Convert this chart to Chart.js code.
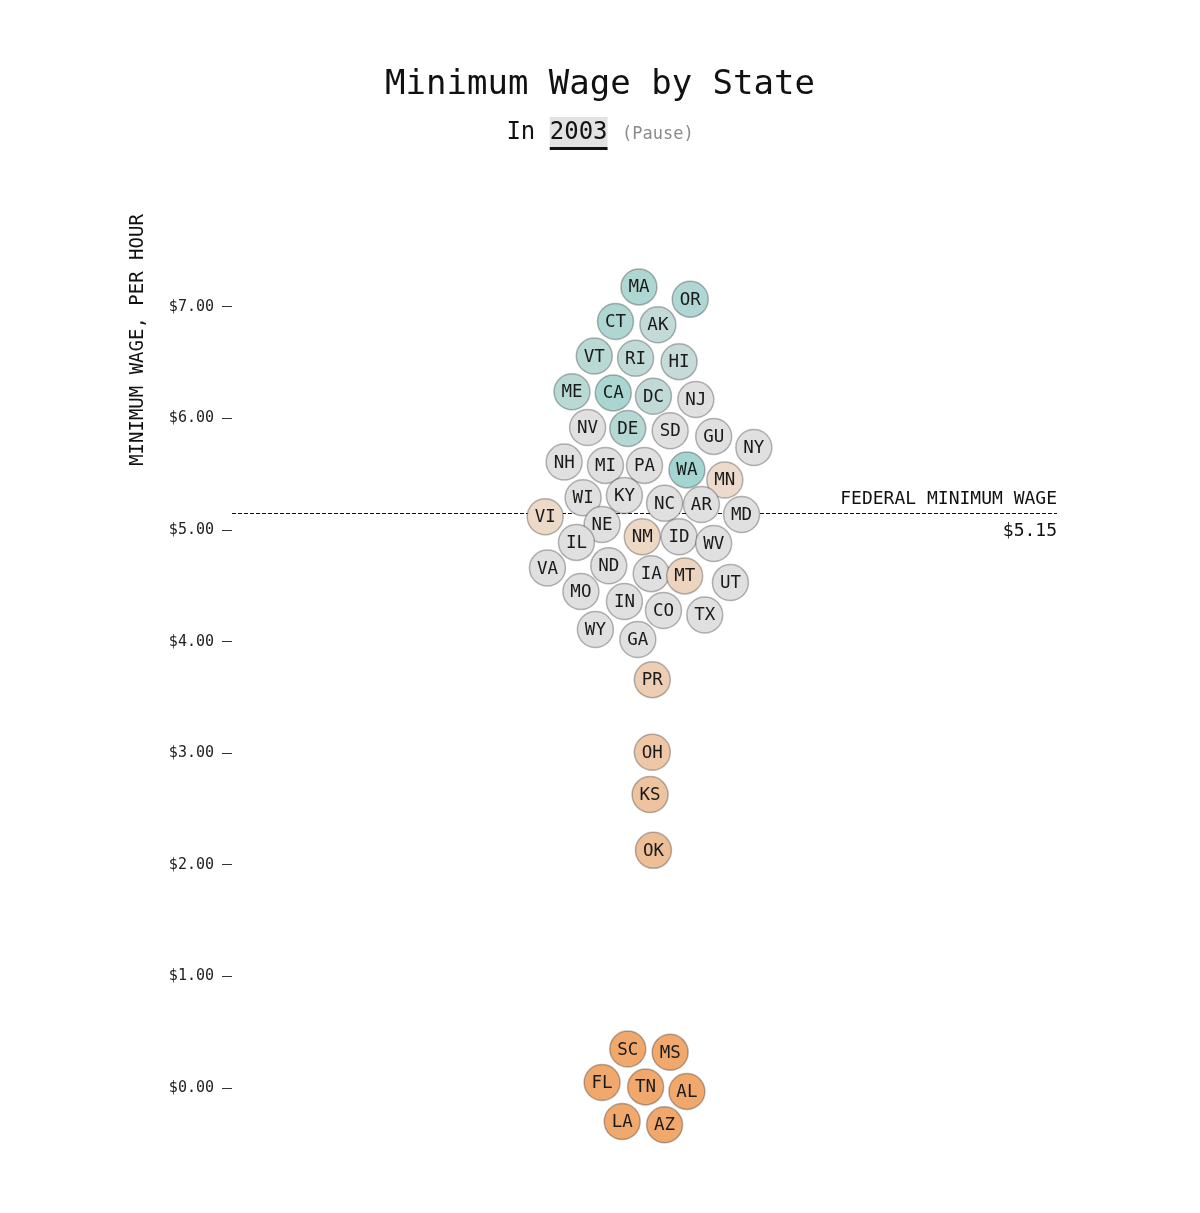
<!DOCTYPE html>
<html>
<head>
<meta charset="utf-8">
<title>Minimum Wage by State</title>
<script src="https://cdn.jsdelivr.net/npm/chart.js@4/dist/chart.umd.min.js"></script>
<style>
  html, body { margin: 0; padding: 0; background: #fff; }
  #wrap { width: 1200px; height: 1213px; }
</style>
</head>
<body>
<div id="wrap"><canvas id="wageChart"></canvas></div>
<script>
// Data
const states = ['MA','OR','CT','AK','VT','RI','HI','ME','CA','DC',
                'NJ','NV','DE','SD','GU','NY','NH','MI','PA','WA',
                'MN','WI','KY','NC','AR','MD','VI','NE','NM','ID',
                'IL','WV','VA','ND','IA','MT','UT','MO','IN','CO',
                'TX','WY','GA','PR','OH','KS','OK','SC','MS','FL',
                'TN','AL','LA','AZ'];

// hourly wage (drives the colour)
const wages = [6.75, 6.70, 6.75, 6.10, 6.40, 6.15, 6.00, 6.40, 6.90, 6.15,
               5.15, 5.15, 6.50, 5.15, 5.15, 5.15, 5.15, 5.15, 5.15, 7.05,
               4.90, 5.15, 5.15, 5.15, 5.15, 5.15, 4.65, 5.15, 4.50, 5.15,
               5.15, 5.15, 5.15, 5.15, 5.15, 4.20, 5.15, 5.15, 5.15, 5.15,
               5.15, 5.15, 5.15, 3.66, 3.00, 2.65, 2.13, 0, 0, 0,
               0, 0, 0, 0];

// swarm layout, in dollars (horizontal offset from centre / vertical position)
const swarmX = [-0.05, 0.41, -0.26, 0.12, -0.45, -0.08, 0.31, -0.65, -0.28, 0.08,
                0.46, -0.51, -0.15, 0.23, 0.62, 0.98, -0.72, -0.35, 0.00, 0.38,
                0.72, -0.55, -0.18, 0.18, 0.51, 0.87, -0.89, -0.38, -0.02, 0.31,
                -0.61, 0.62, -0.87, -0.32, 0.06, 0.36, 0.77, -0.57, -0.18, 0.17,
                0.54, -0.44, -0.06, 0.07, 0.07, 0.05, 0.08, -0.15, 0.23, -0.38,
                0.01, 0.38, -0.20, 0.18];
const swarmY = [7.18, 7.07, 6.87, 6.84, 6.56, 6.54, 6.51, 6.24, 6.23, 6.20,
                6.17, 5.92, 5.91, 5.89, 5.84, 5.74, 5.61, 5.58, 5.58, 5.54,
                5.45, 5.29, 5.31, 5.24, 5.23, 5.14, 5.12, 5.05, 4.94, 4.94,
                4.89, 4.88, 4.66, 4.68, 4.61, 4.59, 4.53, 4.45, 4.36, 4.28,
                4.24, 4.11, 4.02, 3.66, 3.01, 2.63, 2.13, 0.35, 0.32, 0.05,
                0.01, -0.03, -0.30, -0.33];

const wageTicks = [0, 1, 2, 3, 4, 5, 6, 7];
const federalWage = 5.15;
const year = '2003';

const FONT = '"DejaVu Sans Mono", "Liberation Mono", monospace';

function mix(a, b, t) {
    return 'rgb(' + a.map((v, i) => Math.round(v + (b[i] - v) * t)).join(',') + ')';
}

// grey at the federal rate, teal above, peach to orange below
function wageColor(w) {
    if (Math.abs(w - federalWage) < 0.001) return 'rgb(224,224,224)';
    if (w > federalWage) {
        return mix([224, 224, 224], [100, 200, 190], Math.min(1, (w - federalWage) / 4));
    }
    return mix([236, 222, 210], [240, 168, 108], (federalWage - w) / federalWage);
}

const points = states.map((s, i) => ({ x: swarmX[i], y: swarmY[i] }));

const federalLine = {
    id: 'federalLine',
    beforeDatasetsDraw(chart) {
        const { ctx, chartArea } = chart;
        const y = chart.scales.y.getPixelForValue(federalWage);
        ctx.save();
        ctx.strokeStyle = '#111';
        ctx.lineWidth = 1;
        ctx.setLineDash([4, 2]);
        ctx.beginPath();
        ctx.moveTo(chartArea.left, Math.round(y) + 0.5);
        ctx.lineTo(chartArea.right, Math.round(y) + 0.5);
        ctx.stroke();
        ctx.setLineDash([]);
        ctx.fillStyle = '#111';
        ctx.textAlign = 'right';
        ctx.font = '18px ' + FONT;
        ctx.textBaseline = 'alphabetic';
        ctx.fillText('FEDERAL MINIMUM WAGE', chartArea.right, y - 9);
        ctx.textBaseline = 'middle';
        ctx.fillText('$' + federalWage.toFixed(2), chartArea.right, y + 18);
        ctx.restore();
    }
};

const bubbleLabels = {
    id: 'bubbleLabels',
    afterDatasetsDraw(chart) {
        const { ctx } = chart;
        const meta = chart.getDatasetMeta(0);
        ctx.save();
        ctx.fillStyle = '#1a1a1a';
        ctx.font = '17.5px ' + FONT;
        ctx.textAlign = 'center';
        ctx.textBaseline = 'middle';
        meta.data.forEach((el, i) => {
            ctx.fillText(states[i], el.x, el.y + 1);
        });
        ctx.restore();
    }
};

const headings = {
    id: 'headings',
    afterDraw(chart) {
        const { ctx } = chart;
        ctx.save();
        ctx.fillStyle = '#111';
        ctx.textBaseline = 'middle';
        ctx.textAlign = 'center';
        ctx.font = '34px ' + FONT;
        ctx.fillText('Minimum Wage by State', 600, 85);

        // subtitle: "In 2003 (Pause)"
        ctx.textAlign = 'left';
        ctx.font = '24px ' + FONT;
        const wIn = ctx.measureText('In ').width;
        const wYear = ctx.measureText(year).width;
        const wSp = ctx.measureText(' ').width;
        ctx.font = '17px ' + FONT;
        const wPause = ctx.measureText('(Pause)').width;
        let x = 600 - (wIn + wYear + wSp + wPause) / 2;
        const y = 133;
        ctx.fillStyle = '#e2e2e2';
        ctx.fillRect(x + wIn, y - 16, wYear, 31);
        ctx.fillStyle = '#111';
        ctx.fillRect(x + wIn, y + 14, wYear, 3);
        ctx.font = '24px ' + FONT;
        ctx.fillText('In ' + year, x, y);
        ctx.font = '17px ' + FONT;
        ctx.fillStyle = '#8a8a8a';
        ctx.fillText('(Pause)', x + wIn + wYear + wSp, y + 2);

        // y axis title
        ctx.translate(138, 340);
        ctx.rotate(-Math.PI / 2);
        ctx.textAlign = 'center';
        ctx.fillStyle = '#111';
        ctx.font = '19px ' + FONT;
        ctx.fillText('MINIMUM WAGE, PER HOUR', 0, 0);
        ctx.restore();
    }
};

new Chart(document.getElementById('wageChart').getContext('2d'), {
    type: 'scatter',
    data: {
        datasets: [{
            data: points,
            backgroundColor: wages.map(wageColor),
            borderColor: 'rgba(0,0,0,0.28)',
            borderWidth: 1.5,
            pointRadius: 18,
            pointHoverRadius: 18
        }]
    },
    options: {
        responsive: true,
        maintainAspectRatio: false,
        animation: false,
        events: [],
        layout: {
            padding: { top: 195.4, bottom: 35.7, left: 0, right: 143 }
        },
        plugins: {
            legend: { display: false },
            tooltip: { enabled: false }
        },
        scales: {
            x: {
                type: 'linear',
                display: false,
                min: -3.697,
                max: 3.697
            },
            y: {
                type: 'linear',
                min: -0.8,
                max: 8.0,
                afterFit(scale) { scale.width = 232; },
                afterBuildTicks(scale) {
                    scale.ticks = wageTicks.map(v => ({ value: v }));
                },
                border: { display: false },
                grid: {
                    drawOnChartArea: false,
                    drawTicks: true,
                    tickLength: 10,
                    tickColor: '#333',
                    tickWidth: 1
                },
                ticks: {
                    padding: 8,
                    color: '#222',
                    font: { family: FONT, size: 15 },
                    callback: v => '$' + Number(v).toFixed(2)
                }
            }
        }
    },
    plugins: [federalLine, bubbleLabels, headings]
});
</script>
</body>
</html>
